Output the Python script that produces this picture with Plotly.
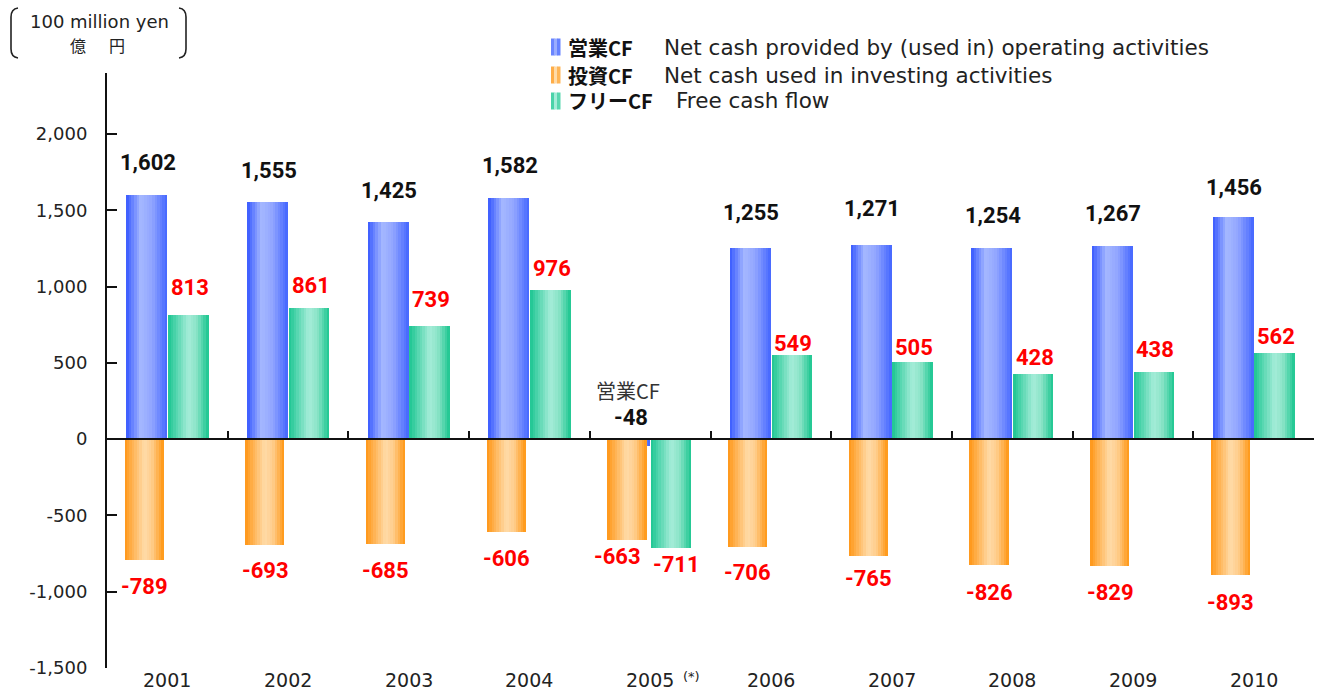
import plotly.graph_objects as go

# ---------------- data ----------------
years = ["2001", "2002", "2003", "2004", "2005", "2006", "2007", "2008", "2009", "2010"]
operating_cf = [1602, 1555, 1425, 1582, -48, 1255, 1271, 1254, 1267, 1456]
investing_cf = [-789, -693, -685, -606, -663, -706, -765, -826, -829, -893]
free_cf = [813, 861, 739, 976, -711, 549, 505, 428, 438, 562]
tick_values = [-1500, -1000, -500, 0, 500, 1000, 1500, 2000]
tick_labels = ["-1,500", "-1,000", "-500", "0", "500", "1,000", "1,500", "2,000"]

# label offsets in pixels (layout only)
op_label_shift = [32, 31, 31, 32, 22, 35, 37, 32, 32, 30]
inv_label_shift = [-27, -26, -27, -27, -16, -26, -23, -27, -27, -27]
free_label_shift = [28, 22, 27, 22, -17, 12, 15, 16, 23, 17]

W, H = 1319, 692
def px(x):
    return x / W
def py(y):
    return 1 - y / H

Y0, Y1 = -1500, 2400
ydom = [py(668), py(73)]
xdom = [px(107), px(1314)]
zero_pos = ydom[0] + (0 - Y0) / (Y1 - Y0) * (ydom[1] - ydom[0])
xpos = list(range(len(years)))  # category slots on a linear axis


def lerp(c1, c2, f):
    return tuple(int(round(a + (b - a) * f)) for a, b in zip(c1, c2))


def grad(stops, t):
    for (t0, c0), (t1, c1) in zip(stops[:-1], stops[1:]):
        if t0 <= t <= t1:
            f = 0 if t1 == t0 else (t - t0) / (t1 - t0)
            return "rgb(%d,%d,%d)" % lerp(c0, c1, f)
    return "rgb(%d,%d,%d)" % stops[-1][1]


blue_stops = [(0.0, (55, 88, 255)), (0.35, (165, 184, 255)), (0.62, (145, 165, 255)), (1.0, (68, 102, 255))]
orange_stops = [(0.0, (255, 150, 22)), (0.5, (255, 219, 168)), (0.7, (255, 205, 140)), (1.0, (255, 150, 18))]
green_stops = [(0.0, (28, 198, 146)), (0.5, (165, 236, 216)), (0.7, (140, 228, 200)), (1.0, (26, 198, 143))]

series = [
    (operating_cf, blue_stops, -0.34, 0.34),
    (investing_cf, orange_stops, -0.355, 0.325),
    (free_cf, green_stops, 0.006, 0.335),
]

fig = go.Figure()
N = 16
for vals, stops, off, wid in series:
    sw = wid / N
    for k in range(N):
        fig.add_trace(go.Bar(
            x=xpos, y=vals,
            offset=off + k * sw, width=sw * 1.08 if k < N - 1 else sw,
            marker=dict(color=grad(stops, (k + 0.5) / N), line=dict(width=0)),
            hoverinfo="skip", showlegend=False,
        ))

ann = []
label_font_black = dict(family="Roboto", size=22, color="#111111")
label_font_red = dict(family="Roboto", size=22, color="#FF0000")
for i, yr in enumerate(years):
    v = operating_cf[i]
    ann.append(dict(x=i - 0.17, y=max(v, 0), xref="x", yref="y", text="<b>%s</b>" % format(v, ","),
                    showarrow=False, yshift=op_label_shift[i], xshift=1,
                    font=label_font_black, xanchor="center", yanchor="middle"))
    v = investing_cf[i]
    ann.append(dict(x=i - 0.19, y=v, xref="x", yref="y", text="<b>%s</b>" % format(v, ","),
                    showarrow=False, yshift=inv_label_shift[i], xshift=(-10 if i == 4 else 0),
                    font=label_font_red, xanchor="center", yanchor="middle"))
    v = free_cf[i]
    ann.append(dict(x=i + 0.17, y=v, xref="x", yref="y", text="<b>%s</b>" % format(v, ","),
                    showarrow=False, yshift=free_label_shift[i], xshift=(6 if i == 4 else 2),
                    font=label_font_red, xanchor="center", yanchor="middle"))
    # year labels
    ann.append(dict(x=i, y=py(680), xref="x", yref="paper", text=yr, showarrow=False,
                    font=dict(family="DejaVu Sans", size=19, color="#222222"),
                    xanchor="center", yanchor="middle", borderpad=0))

# 2005 note
ann.append(dict(x=4, y=py(676), xref="x", yref="paper", text="(*)", showarrow=False, xshift=41,
                font=dict(family="DejaVu Sans", size=13, color="#222222"), xanchor="center", yanchor="middle"))
ann.append(dict(x=4 - 0.17, y=0, xref="x", yref="y", text="営業CF", showarrow=False,
                yshift=49, xshift=-2,
                font=dict(family="Noto Sans CJK JP", size=20, color="#333333"),
                xanchor="center", yanchor="middle"))

# unit label
ann.append(dict(x=px(99), y=py(22), xref="paper", yref="paper", text="100 million yen", showarrow=False,
                font=dict(family="DejaVu Sans", size=18, color="#222222"), xanchor="center", yanchor="middle"))
ann.append(dict(x=px(78), y=py(45), xref="paper", yref="paper", text="億", showarrow=False,
                font=dict(family="Noto Sans CJK JP", size=16, color="#222222"), xanchor="center", yanchor="middle"))
ann.append(dict(x=px(117), y=py(45), xref="paper", yref="paper", text="円", showarrow=False,
                font=dict(family="Noto Sans CJK JP", size=16, color="#222222"), xanchor="center", yanchor="middle"))

# legend
legend_items = [
    ("営業CF", "Net cash provided by (used in) operating activities", blue_stops, 47, 663),
    ("投資CF", "Net cash used in investing activities", orange_stops, 75, 663),
    ("フリーCF", "Free cash flow", green_stops, 101, 675),
]
shapes = []
for jp, en, stops, yc, xen in legend_items:
    for k in range(3):
        shapes.append(dict(type="rect", xref="paper", yref="paper",
                           x0=px(551 + k * 3), x1=px(551 + (k + 1) * 3 + 0.5),
                           y0=py(yc + 8.5), y1=py(yc - 8.5),
                           fillcolor=grad(stops, (k + 0.5) / 3), line=dict(width=0)))
    ann.append(dict(x=px(567), y=py(yc), xref="paper", yref="paper", text="<b>%s</b>" % jp,
                    showarrow=False, xanchor="left", yanchor="middle", borderpad=0,
                    font=dict(family="Noto Sans CJK JP", size=20, color="#111111")))
    ann.append(dict(x=px(xen), y=py(yc), xref="paper", yref="paper", text=en,
                    showarrow=False, xanchor="left", yanchor="middle", borderpad=0,
                    font=dict(family="DejaVu Sans", size=21.5, color="#222222")))

# brackets around unit
def bracket(xa, xb):
    return ("M %f %f Q %f %f %f %f L %f %f Q %f %f %f %f" %
            (px(xa), py(8), px(xb), py(9), px(xb), py(17),
             px(xb), py(49), px(xb), py(57), px(xa), py(58)))
shapes.append(dict(type="path", xref="paper", yref="paper", path=bracket(18, 11),
                   line=dict(color="#222222", width=1.6)))
shapes.append(dict(type="path", xref="paper", yref="paper", path=bracket(179, 186),
                   line=dict(color="#222222", width=1.6)))

fig.update_layout(
    width=W, height=H,
    margin=dict(l=0, r=0, t=0, b=0, pad=0),
    paper_bgcolor="white", plot_bgcolor="white",
    barmode="overlay", bargap=0,
    showlegend=False,
    annotations=ann, shapes=shapes,
    xaxis=dict(range=[-0.5, len(years) - 0.5], automargin=False,
               domain=xdom, anchor="free", position=zero_pos,
               showline=True, linecolor="#111111", linewidth=2,
               ticks="inside", tickvals=[i - 0.5 for i in range(len(years) + 1)],
               ticklen=7, tickwidth=2, tickcolor="#111111",
               showticklabels=False, showgrid=False, zeroline=False, fixedrange=True),
    yaxis=dict(range=[Y0, Y1], domain=ydom, automargin=False,
               showline=True, linecolor="#111111", linewidth=2,
               ticks="inside", ticklen=10, tickwidth=2, tickcolor="#111111",
               tickvals=tick_values, ticktext=tick_labels,
               tickfont=dict(family="DejaVu Sans", size=18, color="#222222"),
               ticklabelstandoff=14,
               showgrid=False, zeroline=False, fixedrange=True),
)

fig.write_html("out.html", config={"displayModeBar": False},
               post_script="document.body.style.margin='0';document.body.style.overflow='hidden';")
